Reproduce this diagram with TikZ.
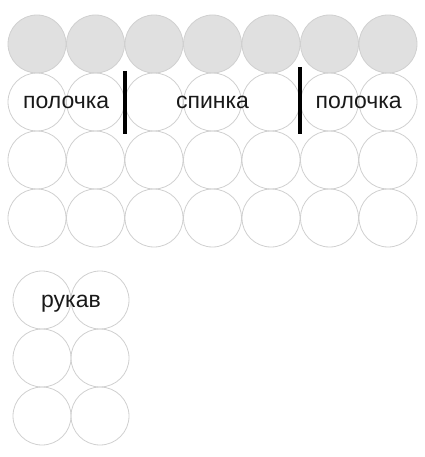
\documentclass[tikz,border=0pt]{standalone}
\usepackage{fontspec}
\setmainfont{Liberation Sans}
\usetikzlibrary{calc}
\definecolor{obvod}{RGB}{208,208,208}
\definecolor{zalivka}{RGB}{224,224,224}
\definecolor{tekst}{RGB}{25,25,25}

\begin{document}
\begin{tikzpicture}[x=1pt, y=-1pt,
    krug/.style={circle, draw=obvod, line width=0.8pt, minimum size=58pt, inner sep=0pt},
    seryj/.style={krug, fill=zalivka},
    nadpis/.style={font=\fontsize{23}{25}\selectfont, text=tekst, inner sep=0pt,
        anchor=base, yshift=-7pt},
    cherta/.style={line width=4pt, black}]
    \useasboundingbox (0,0) rectangle (424,457);

    % верхние ряды
    \foreach \c in {1,...,7} {
        \node[seryj] (v-1-\c) at ({37+(\c-1)*58.5}, 44) {};
    }
    \foreach \r in {2,3,4} {
        \foreach \c in {1,...,7} {
            \node[krug] (v-\r-\c) at ({37+(\c-1)*58.5}, {44+(\r-1)*58}) {};
        }
    }

    % рукав
    \foreach \r in {1,2,3} {
        \foreach \c in {1,2} {
            \node[krug] (r-\r-\c) at ({42+(\c-1)*58}, {300+(\r-1)*58}) {};
        }
    }

    % подписи
    \node[nadpis] (polochka1) at ($(v-2-1)!0.5!(v-2-2)$) {полочка};
    \node[nadpis] (spinka) at (v-2-4) {спинка};
    \node[nadpis] (polochka2) at ($(v-2-6)!0.5!(v-2-7)$) {полочка};
    \node[nadpis] (rukav) at ($(r-1-1)!0.5!(r-1-2)$) {рукав};

    % границы деталей
    \coordinate (g1) at ($(v-2-2)!0.5!(v-2-3)$);
    \coordinate (g2) at ($(v-2-5)!0.5!(v-2-6)$);
    \coordinate (g1a) at ($(g1)+(0,-31)$);
    \coordinate (g1b) at ($(g1)+(0,32)$);
    \coordinate (g2a) at ($(g2)+(0,-35)$);
    \coordinate (g2b) at ($(g2)+(0,32)$);
    \draw[cherta] (g1a) -- (g1b);
    \draw[cherta] (g2a) -- (g2b);
\end{tikzpicture}
\end{document}
